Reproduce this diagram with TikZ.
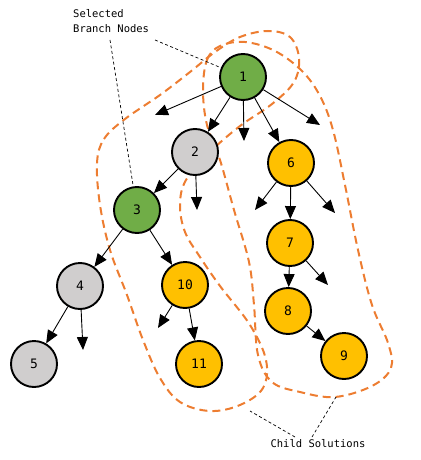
\documentclass[tikz,border=0pt]{standalone}
\usepackage{fontspec}
\setmonofont{DejaVu Sans Mono}
\usetikzlibrary{arrows.meta, positioning}
\definecolor{leafgreen}{HTML}{70AD47}
\definecolor{prunegray}{HTML}{D0CECE}
\definecolor{childgold}{HTML}{FFC000}
\definecolor{hullorange}{HTML}{ED7D31}
\tikzset{%
	bnode/.style={draw, circle, minimum size=46pt, inner sep=0pt, line width=1.9pt,%
		font=\ttfamily\fontsize{13}{15}\selectfont},
	branch/.style={bnode, fill=leafgreen},
	open/.style={bnode, fill=prunegray},
	child/.style={bnode, fill=childgold},
	sel/.style={-{Triangle[length=13pt, width=11pt]}, line width=0.9pt},
	hull/.style={draw=hullorange, line width=2pt, dash pattern=on 8pt off 5pt},
	callout/.style={line width=0.7pt, dash pattern=on 3pt off 2.5pt},
	textnode/.style={font=\ttfamily\fontsize{10.5}{15}\selectfont, inner sep=0pt}
}
\begin{document}
\begin{tikzpicture}[x=1pt, y=-1pt]
	\useasboundingbox (0,0) rectangle (420,460);

	% regions of the child solutions
	\draw[hull] plot[smooth cycle, tension=0.6] coordinates {(97,163) (104,139) (125,119)
		(160,95) (190,72) (215,52) (240,37) (268,31) (290,37) (299,58) (294,82) (272,104)
		(240,126) (210,152) (186,180) (180,205) (185,232) (200,257) (220,286) (250,325)
		(266,360) (263,388) (240,405) (210,411) (180,402) (160,378) (143,340) (127,295)
		(110,250) (100,205)};
	\draw[hull] plot[smooth cycle, tension=0.6] coordinates {(203,90) (207,60) (220,46)
		(245,42) (275,51) (302,71) (320,96) (333,130) (345,185) (358,250) (372,305)
		(388,343) (391,368) (372,386) (335,397) (300,392) (272,382) (258,355) (254,305)
		(249,262) (234,210) (220,160) (207,125)};

	\node[branch] (n1) at (243,77) {1};
	\node[open]   (n2) at (195,152) {2};
	\node[branch] (n3) at (137,210) {3};
	\node[open]   (n4) at (80,286) {4};
	\node[open]   (n5) at (34,364) {5};
	\node[child]  (n6) at (291,163) {6};
	\node[child]  (n7) at (290,243) {7};
	\node[child]  (n8) at (288,311) {8};
	\node[child]  (n9) at (344,356) {9};
	\node[child]  (n10) at (185,285) {10};
	\node[child]  (n11) at (199,364) {11};

	% open ends of the branches
	\coordinate (e1a) at (155,115);
	\coordinate (e1b) at (244,141);
	\coordinate (e1c) at (320,125);
	\coordinate (e2a) at (197,210);
	\coordinate (e4a) at (83,350);
	\coordinate (e10a) at (158,328);
	\coordinate (e6a) at (255,210);
	\coordinate (e6b) at (335,213);
	\coordinate (e7a) at (328,285);

	\draw[sel] (n1) -- (e1a);
	\draw[sel] (n1) -- (n2);
	\draw[sel] (n1) -- (e1b);
	\draw[sel] (n1) -- (n6);
	\draw[sel] (n1) -- (e1c);
	\draw[sel] (n2) -- (n3);
	\draw[sel] (n2) -- (e2a);
	\draw[sel] (n3) -- (n4);
	\draw[sel] (n3) -- (n10);
	\draw[sel] (n4) -- (n5);
	\draw[sel] (n4) -- (e4a);
	\draw[sel] (n10) -- (e10a);
	\draw[sel] (n10) -- (n11);
	\draw[sel] (n6) -- (e6a);
	\draw[sel] (n6) -- (n7);
	\draw[sel] (n6) -- (e6b);
	\draw[sel] (n7) -- (n8);
	\draw[sel] (n7) -- (e7a);
	\draw[sel] (n8) -- (n9);

	% labels
	\node[textnode, anchor=north west, align=left] (sbn) at (73,9) {Selected\\Branch Nodes};
	\node[textnode] (cs) at (318,444) {Child Solutions};
	\coordinate (sbn1) at (155,40);
	\coordinate (sbn3) at (110,40);
	\coordinate (cs1) at (295,437);
	\coordinate (cs2) at (312,437);
	\draw[callout] (sbn1) -- (n1);
	\draw[callout] (sbn3) -- (n3);
	\draw[callout] (cs1) -- (250,411);
	\draw[callout] (cs2) -- (336,397);
\end{tikzpicture}
\end{document}
